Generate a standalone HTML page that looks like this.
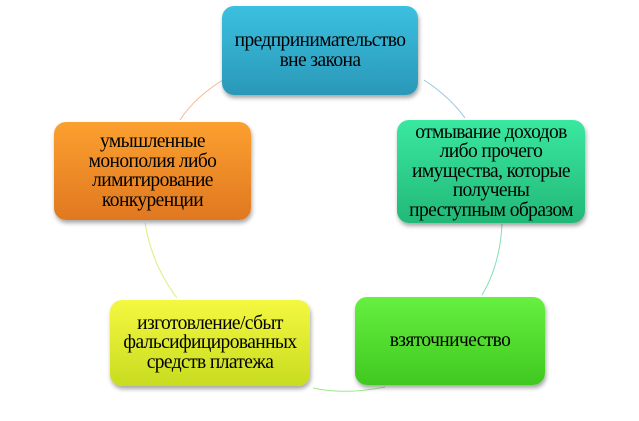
<!DOCTYPE html>
<html><head><meta charset="utf-8"><style>
body{margin:0;width:639px;height:421px;background:#fff;position:relative;overflow:hidden;font-family:"Liberation Serif",serif;}
.b{position:absolute;border-radius:12px;display:flex;align-items:center;justify-content:center;text-align:center;font-size:19.5px;line-height:19.5px;color:#000;box-shadow:1px 3px 4px rgba(0,0,0,.35);letter-spacing:-0.6px;}
svg{position:absolute;left:0;top:0}
</style></head><body>
<svg width="639" height="421" fill="none">
<path d="M223 80 Q195 97 180 120" stroke="#f4b890"/>
<path d="M424 80 Q450 97 465 118" stroke="#90c8e0"/>
<path d="M502 224 Q500 265 482 295" stroke="#80e0b0"/>
<path d="M145 223 Q152 265 177 298" stroke="#e0ec80"/>
<path d="M313 388 Q345 395 385 387" stroke="#a0e890"/>
</svg>
<div class="b" style="left:222px;top:6px;width:196px;height:89px;background:linear-gradient(#3cc0e0,#2a98b8)">предпринимательство<br>вне закона</div>
<div class="b" style="left:397px;top:120px;width:188px;height:103px;background:linear-gradient(#3ae8a0,#22b878)">отмывание доходов<br>либо прочего<br>имущества, которые<br>получены<br>преступным образом</div>
<div class="b" style="left:355px;top:297px;width:190px;height:88px;background:linear-gradient(#66f040,#40c820)">взяточничество</div>
<div class="b" style="left:110px;top:300px;width:200px;height:86px;background:linear-gradient(#f4f840,#c8dc20)">изготовление/сбыт<br>фальсифицированных<br>средств платежа</div>
<div class="b" style="left:54px;top:122px;width:197px;height:98px;background:linear-gradient(#fca030,#e07820)">умышленные<br>монополия либо<br>лимитирование<br>конкуренции</div>
</body></html>
